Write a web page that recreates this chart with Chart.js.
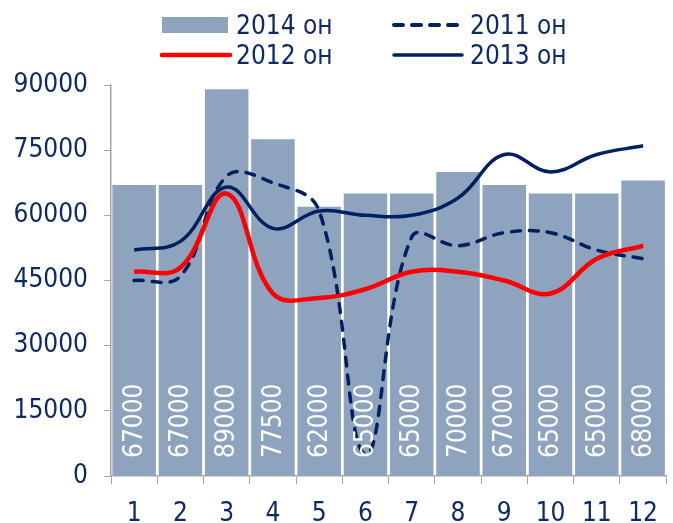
<!DOCTYPE html>
<html>
<head>
<meta charset="utf-8">
<script src="https://cdn.jsdelivr.net/npm/chart.js@4"></script>
<style>
  body { margin: 0; background: #fff; }
  #wrap { position: relative; width: 673px; height: 523px; }
  #c { position: absolute; left: 0; top: 0; }
  .lg { position: absolute; font-family: "DejaVu Sans Condensed", "DejaVu Sans", sans-serif;
        font-size: 26px; color: #0e2a66; line-height: 30px; white-space: nowrap; }
  .ic { position: absolute; }
</style>
</head>
<body>
<div id="wrap">
  <canvas id="c" width="673" height="523"></canvas>
  <!-- легенда -->
  <svg class="ic" style="left:160px;top:10px" width="74" height="30">
    <rect x="2" y="7" width="66" height="16" fill="#8ea3bd"/>
  </svg>
  <div class="lg" style="left:236px;top:10px">2014 он</div>
  <svg class="ic" style="left:390px;top:10px" width="76" height="30">
    <line x1="4" y1="15" x2="72" y2="15" stroke="#002060" stroke-width="4" stroke-linecap="round" stroke-dasharray="9 9"/>
  </svg>
  <div class="lg" style="left:470px;top:10px">2011 он</div>
  <svg class="ic" style="left:160px;top:40px" width="74" height="30">
    <line x1="2" y1="15" x2="70" y2="15" stroke="#ff0000" stroke-width="4.5" stroke-linecap="round"/>
  </svg>
  <div class="lg" style="left:236px;top:40px">2012 он</div>
  <svg class="ic" style="left:390px;top:40px" width="76" height="30">
    <line x1="4" y1="15" x2="72" y2="15" stroke="#002060" stroke-width="3.5" stroke-linecap="round"/>
  </svg>
  <div class="lg" style="left:470px;top:40px">2013 он</div>
</div>
<script>
// данные
const months = ["1", "2", "3", "4", "5", "6", "7", "8", "9", "10", "11", "12"];
const bars2014 = [67000, 67000, 89000, 77500, 62000, 65000, 65000, 70000, 67000, 65000, 65000, 68000];
const line2011 = [45000, 46000, 69000, 67500, 61000, 5000, 55000, 53000, 56000, 56000, 52000, 50000];
const line2012 = [47000, 48000, 65000, 42000, 41000, 43000, 47000, 47000, 45000, 42000, 50000, 53000];
const line2013 = [52000, 54000, 66500, 57000, 61000, 60000, 60000, 64000, 74000, 70000, 74000, 76000];
const yTicks = [0, 15000, 30000, 45000, 60000, 75000, 90000];

const font = "'DejaVu Sans Condensed', 'DejaVu Sans', sans-serif";
const navy = "#002060";
const textColor = "#0e2a66";

// подписи значений внутри столбцов (повернуты)
const barLabels = {
  id: "barLabels",
  afterDatasetsDraw(chart) {
    const ctx = chart.ctx;
    const meta = chart.getDatasetMeta(0);
    ctx.save();
    ctx.font = "26px " + font;
    ctx.fillStyle = "#ffffff";
    ctx.textAlign = "left";
    ctx.textBaseline = "middle";
    meta.data.forEach((bar, i) => {
      ctx.save();
      ctx.translate(bar.x, chart.chartArea.bottom - 18);
      ctx.rotate(-Math.PI / 2);
      ctx.fillText(String(bars2014[i]), 0, 1);
      ctx.restore();
    });
    ctx.restore();
  }
};

new Chart(document.getElementById("c"), {
  data: {
    labels: months,
    datasets: [
      {
        type: "bar",
        label: "2014 он",
        data: bars2014,
        backgroundColor: "#8ea3bd",
        categoryPercentage: 1,
        barPercentage: 0.94,
        order: 5
      },
      {
        type: "line",
        label: "2011 он",
        data: line2011,
        borderColor: navy,
        borderWidth: 3.5,
        borderDash: [9, 9],
        borderCapStyle: "round",
        pointRadius: 0,
        tension: 0.4,
        fill: false,
        order: 3
      },
      {
        type: "line",
        label: "2012 он",
        data: line2012,
        borderColor: "#ff0000",
        borderWidth: 4.5,
        pointRadius: 0,
        tension: 0.4,
        fill: false,
        order: 2
      },
      {
        type: "line",
        label: "2013 он",
        data: line2013,
        borderColor: navy,
        borderWidth: 3.5,
        pointRadius: 0,
        tension: 0.4,
        fill: false,
        order: 1
      }
    ]
  },
  options: {
    responsive: false,
    animation: false,
    layout: { padding: { top: 85, right: 1, left: 0, bottom: 0 } },
    plugins: {
      legend: { display: false },
      tooltip: { enabled: false }
    },
    scales: {
      x: {
        offset: true,
        grid: { offset: true, drawOnChartArea: false, drawTicks: true, tickLength: 8, color: "#a6a6a6" },
        border: { color: "#a6a6a6", width: 1.5 },
        ticks: { color: textColor, font: { family: font, size: 26 }, padding: 15, maxRotation: 0, autoSkip: false },
        afterFit: s => { s.height = 47; }
      },
      y: {
        min: 0,
        max: 90000,
        afterBuildTicks: s => { s.ticks = yTicks.map(v => ({ value: v })); },
        grid: { drawOnChartArea: false, drawTicks: true, tickLength: 7, color: "#a6a6a6" },
        border: { color: "#a6a6a6", width: 1.5 },
        ticks: { color: textColor, font: { family: font, size: 26 }, padding: 16, callback: v => String(v) },
        afterFit: s => { s.width = 111; }
      }
    }
  },
  plugins: [barLabels]
});
</script>
</body>
</html>
